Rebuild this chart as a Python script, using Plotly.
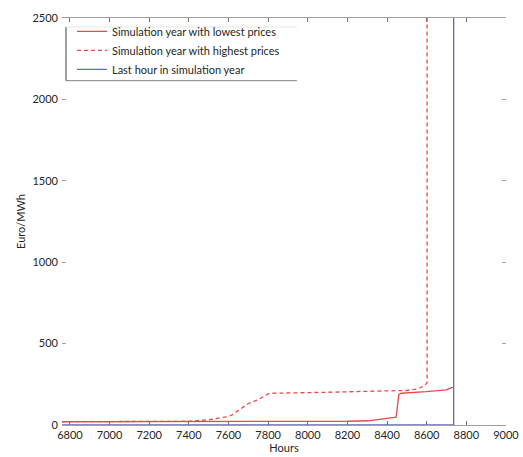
import plotly.graph_objects as go

# --- data ---
low_hours = [6760, 7000, 7400, 7800, 8000, 8200, 8303, 8378, 8446, 8459, 8471, 8597, 8698, 8723, 8736]
low_price = [20, 20, 20, 20, 21, 23, 26, 38, 48, 187, 195, 205, 216, 228, 232]

high_hours = [6760, 7400, 7500, 7600, 7620, 7700, 7750, 7800, 7820, 8000, 8100, 8300, 8500, 8555, 8590, 8602, 8602]
high_price = [20, 23, 32, 52, 64, 132, 156, 191, 195, 197, 201, 207, 212, 222, 242, 260, 3000]

last_hour = 8736
last_x = [6760, last_hour, last_hour]
last_y = [0, 0, 3000]

x_ticks = [6800, 7000, 7200, 7400, 7600, 7800, 8000, 8200, 8400, 8600, 8800, 9000]
y_ticks = [0, 500, 1000, 1500, 2000, 2500]

FONT = "Lato"
TXT = "#262626"

fig = go.Figure()
fig.add_trace(go.Scatter(x=low_hours, y=low_price, mode="lines",
                         name="Simulation year with lowest prices",
                         line=dict(color="#f04848", width=1.3)))
fig.add_trace(go.Scatter(x=high_hours, y=high_price, mode="lines",
                         name="Simulation year with highest prices",
                         line=dict(color="#f04848", width=1.3, dash="4px,3px")))
fig.add_trace(go.Scatter(x=last_x, y=last_y, mode="lines",
                         name="Last hour in simulation year",
                         line=dict(color="#5a6cc0", width=1.3)))

fig.update_layout(
    width=523, height=457,
    margin=dict(l=62, r=17, t=18, b=32),
    paper_bgcolor="white", plot_bgcolor="white",
    font=dict(family=FONT, size=11, color=TXT),
    showlegend=True,
    legend=dict(x=0.0225, y=1.003, xanchor="left", yanchor="top",
                bgcolor="rgba(0,0,0,0)", borderwidth=0,
                font=dict(family=FONT, size=11, color=TXT),
                tracegroupgap=0, itemwidth=30),
)
fig.update_xaxes(range=[6760, 9000], tickvals=x_ticks, ticks="inside", ticklen=4,
                 tickcolor="#707070", showline=True, linecolor="#a0a0a0", linewidth=1,
                 mirror="ticks", showgrid=False, zeroline=False, layer="below traces",
                 automargin=False,
                 title=dict(text="Hours", standoff=2, font=dict(size=11, family=FONT, color=TXT)),
                 tickfont=dict(size=11, family=FONT, color=TXT))
fig.update_yaxes(range=[0, 2500], tickvals=y_ticks, ticks="inside", ticklen=4,
                 tickcolor="#a0a0a0", showline=False, mirror="ticks",
                 showgrid=False, zeroline=False, automargin=False, ticklabelstandoff=3,
                 title=dict(text="Euro/MWh", standoff=4, font=dict(size=11, family=FONT, color=TXT)),
                 tickfont=dict(size=11, family=FONT, color=TXT))

# legend frame (left, bottom and faint top edges as in the reference)
x0, x1, yt, yb = 0.009, 0.529, 0.978, 0.846
fig.add_shape(type="line", xref="paper", yref="paper", x0=x0, x1=x0, y0=yb, y1=yt,
              line=dict(color="#404040", width=1))
fig.add_shape(type="line", xref="paper", yref="paper", x0=x0, x1=x1, y0=yb, y1=yb,
              line=dict(color="#808080", width=1))
fig.add_shape(type="line", xref="paper", yref="paper", x0=x0, x1=x1, y0=yt, y1=yt,
              line=dict(color="#e6e6e6", width=1))

fig.write_html("out.html", config={"displayModeBar": False},
               post_script="document.body.style.margin='0';")
